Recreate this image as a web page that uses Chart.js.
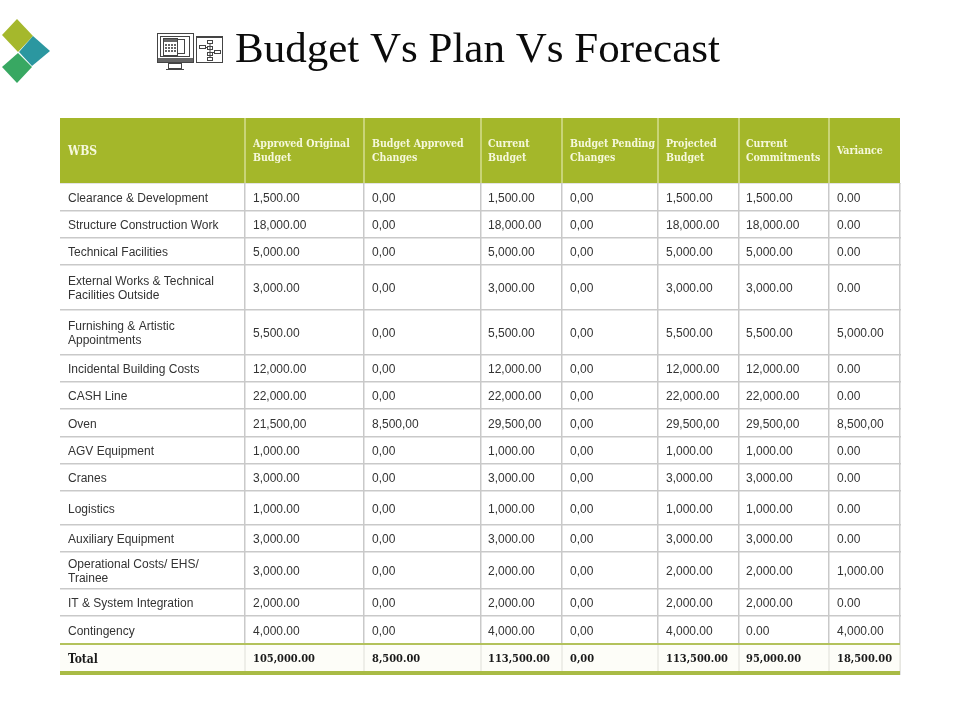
<!DOCTYPE html>
<html>
<head>
<meta charset="utf-8">
<title>Budget Vs Plan Vs Forecast</title>
<script src="https://cdn.jsdelivr.net/npm/chart.js@4"></script>
<style>
  html, body { margin: 0; padding: 0; background: #fff; }
  canvas { display: block; }
</style>
</head>
<body>
<canvas id="budgetTable" width="960" height="720"></canvas>
<script>
const titleText = 'Budget Vs Plan Vs Forecast';

const headers = [
  ['WBS'],
  ['Approved Original', 'Budget'],
  ['Budget Approved', 'Changes'],
  ['Current', 'Budget'],
  ['Budget Pending', 'Changes'],
  ['Projected', 'Budget'],
  ['Current', 'Commitments'],
  ['Variance']
];

const wbs = [
  'Clearance & Development', 'Structure Construction Work', 'Technical Facilities',
  'External Works & Technical\nFacilities Outside', 'Furnishing & Artistic\nAppointments',
  'Incidental Building Costs', 'CASH Line', 'Oven', 'AGV Equipment', 'Cranes', 'Logistics',
  'Auxiliary Equipment', 'Operational Costs/ EHS/\nTrainee', 'IT & System Integration',
  'Contingency', 'Total'
];
const approvedOriginal = ['1,500.00', '18,000.00', '5,000.00', '3,000.00', '5,500.00', '12,000.00', '22,000.00', '21,500,00', '1,000.00', '3,000.00', '1,000.00', '3,000.00', '3,000.00', '2,000.00', '4,000.00', '105,000.00'];
const budgetApproved = ['0,00', '0,00', '0,00', '0,00', '0,00', '0,00', '0,00', '8,500,00', '0,00', '0,00', '0,00', '0,00', '0,00', '0,00', '0,00', '8,500.00'];
const currentBudget = ['1,500.00', '18,000.00', '5,000.00', '3,000.00', '5,500.00', '12,000.00', '22,000.00', '29,500,00', '1,000.00', '3,000.00', '1,000.00', '3,000.00', '2,000.00', '2,000.00', '4,000.00', '113,500.00'];
const budgetPending = ['0,00', '0,00', '0,00', '0,00', '0,00', '0,00', '0,00', '0,00', '0,00', '0,00', '0,00', '0,00', '0,00', '0,00', '0,00', '0,00'];
const projectedBudget = ['1,500.00', '18,000.00', '5,000.00', '3,000.00', '5,500.00', '12,000.00', '22,000.00', '29,500,00', '1,000.00', '3,000.00', '1,000.00', '3,000.00', '2,000.00', '2,000.00', '4,000.00', '113,500.00'];
const currentCommitments = ['1,500.00', '18,000.00', '5,000.00', '3,000.00', '5,500.00', '12,000.00', '22,000.00', '29,500,00', '1,000.00', '3,000.00', '1,000.00', '3,000.00', '2,000.00', '2,000.00', '0.00', '95,000.00'];
const variance = ['0.00', '0.00', '0.00', '0.00', '5,000.00', '0.00', '0.00', '8,500,00', '0.00', '0.00', '0.00', '0.00', '1,000.00', '0.00', '4,000.00', '18,500.00'];

const columns = [wbs, approvedOriginal, budgetApproved, currentBudget, budgetPending, projectedBudget, currentCommitments, variance];

// table layout, in the units of the two hidden axes
const colEdges = [60, 245, 364, 481, 562, 658, 739, 829, 900];
const colPads = [8, 8, 8, 7, 8, 8, 7, 8];
const rowEdges = [183, 211, 238, 265, 310, 355, 382, 409, 437, 464, 491, 525, 552, 589, 616, 644, 672];
const headerTop = 118;
const tableBottom = 675;

const olive = '#a4b72a';
const gridGrey = '#c9c9c9';

const datasets = columns.map((col, c) => ({
  label: headers[c].join(' '),
  texts: col,
  data: col.map((_, r) => ({ x: colEdges[c] + colPads[c], y: (rowEdges[r] + rowEdges[r + 1]) / 2 })),
  pointRadius: 0
}));

function polygon(ctx, pts, fill) {
  ctx.beginPath();
  pts.forEach((p, i) => (i ? ctx.lineTo(p[0], p[1]) : ctx.moveTo(p[0], p[1])));
  ctx.closePath();
  ctx.fillStyle = fill;
  ctx.fill();
}

function drawLogo(ctx) {
  polygon(ctx, [[17, 19], [33, 36], [18, 52], [2, 35]], '#a5b82c');
  polygon(ctx, [[33, 36], [50, 51], [32, 66], [19, 52]], '#2b97a0');
  polygon(ctx, [[18, 53], [32, 67], [17, 83], [2, 67]], '#38a862');
}

function drawIcons(ctx) {
  ctx.save();
  ctx.strokeStyle = '#444';
  ctx.lineWidth = 1;
  // monitor
  ctx.strokeRect(157.5, 33.5, 36, 29);
  ctx.strokeRect(160.5, 36.5, 29, 20);
  ctx.strokeRect(163.5, 39.5, 21, 14);
  ctx.fillStyle = '#fff';
  ctx.fillRect(163.5, 38.5, 14, 17);
  ctx.strokeRect(163.5, 38.5, 14, 17);
  ctx.fillStyle = '#666';
  ctx.fillRect(164, 39, 13, 3);
  for (let i = 0; i < 4; i++) {
    for (let j = 0; j < 3; j++) ctx.fillRect(165 + i * 3, 44 + j * 3, 2, 2);
  }
  ctx.fillRect(158, 58, 35, 4);
  ctx.strokeRect(168.5, 63.5, 13, 5);
  ctx.beginPath(); ctx.moveTo(166, 69.5); ctx.lineTo(184, 69.5); ctx.stroke();
  // flow chart board
  ctx.strokeRect(196.5, 37.5, 26, 25);
  ctx.fillStyle = '#444';
  ctx.fillRect(196, 36, 27, 2);
  ctx.strokeRect(207.5, 40.5, 5, 3);
  ctx.strokeRect(207.5, 46.5, 5, 3);
  ctx.strokeRect(199.5, 45.5, 6, 3);
  ctx.strokeRect(214.5, 50.5, 6, 3);
  ctx.strokeRect(207.5, 52.5, 5, 3);
  ctx.strokeRect(207.5, 57.5, 5, 3);
  ctx.beginPath();
  ctx.moveTo(210, 43.5); ctx.lineTo(210, 57.5);
  ctx.moveTo(205.5, 47.5); ctx.lineTo(207.5, 47.5);
  ctx.moveTo(212.5, 52.5); ctx.lineTo(214.5, 52.5);
  ctx.stroke();
  ctx.restore();
}

const tablePlugin = {
  id: 'tablePlugin',
  beforeDatasetsDraw(chart) {
    const { ctx, scales: { x, y } } = chart;
    ctx.save();
    // header band
    const hTop = y.getPixelForValue(headerTop);
    const hBottom = y.getPixelForValue(rowEdges[0]);
    const left = x.getPixelForValue(colEdges[0]);
    const right = x.getPixelForValue(colEdges[8]);
    ctx.fillStyle = olive;
    ctx.fillRect(left, hTop, right - left, hBottom - hTop);
    ctx.fillStyle = '#ffffff';
    ctx.fillRect(right, hTop, 1, hBottom - hTop);
    ctx.fillStyle = '#eef2c4';
    colEdges.slice(1, 8).forEach(v => ctx.fillRect(x.getPixelForValue(v) - 0.5, hTop, 1, hBottom - hTop));
    // total row
    const totalTop = y.getPixelForValue(rowEdges[15]);
    const totalBottom = y.getPixelForValue(tableBottom - 4);
    ctx.fillStyle = '#fdfdf8';
    ctx.fillRect(left, totalTop, right - left, totalBottom - totalTop);
    ctx.fillStyle = '#e9e9e2';
    colEdges.slice(1).forEach(v => ctx.fillRect(x.getPixelForValue(v) - 0.75, totalTop, 1.5, totalBottom - totalTop));
    ctx.fillStyle = '#b3c25c';
    ctx.fillRect(left, totalTop - 1, right - left, 2);
    ctx.fillStyle = '#a9bb45';
    ctx.fillRect(left, totalBottom, right - left, 4);
    ctx.restore();
  },
  afterDatasetsDraw(chart) {
    const { ctx, scales: { x, y } } = chart;
    ctx.save();
    ctx.textBaseline = 'middle';
    ctx.textAlign = 'left';

    // title, logo and icons sit outside the table area
    drawLogo(ctx);
    drawIcons(ctx);
    ctx.fillStyle = '#0b0b0b';
    ctx.font = '43px "Liberation Serif"';
    ctx.fillText(titleText, 235, 51);

    // header labels
    headers.forEach((lines, c) => {
      ctx.font = c === 0 ? 'bold 12px "DejaVu Serif Condensed"' : 'bold 10.5px "DejaVu Serif Condensed"';
      ctx.fillStyle = '#f6f8dc';
      const px = x.getPixelForValue(colEdges[c] + colPads[c]);
      const py = y.getPixelForValue((headerTop + rowEdges[0]) / 2) + 1;
      lines.forEach((line, i) => ctx.fillText(line, px, py + (i - (lines.length - 1) / 2) * 14));
    });

    // body cells take their position from the dataset points
    chart.data.datasets.forEach((ds, c) => {
      chart.getDatasetMeta(c).data.forEach((pt, r) => {
        const isTotal = r === ds.texts.length - 1;
        if (isTotal) ctx.font = c === 0 ? 'bold 12px "DejaVu Serif Condensed"' : 'bold 11px "DejaVu Serif Condensed"';
        else ctx.font = '12px "Liberation Sans"';
        ctx.fillStyle = isTotal ? '#1a1a1a' : '#333';
        const lines = ds.texts[r].split('\n');
        lines.forEach((line, i) => ctx.fillText(line, pt.x, pt.y + 1.5 + (i - (lines.length - 1) / 2) * 14));
      });
    });
    ctx.restore();
  }
};

new Chart(document.getElementById('budgetTable').getContext('2d'), {
  type: 'scatter',
  data: { datasets },
  options: {
    responsive: false,
    animation: false,
    events: [],
    layout: { padding: { left: colEdges[0], right: 960 - colEdges[8] - 1, top: headerTop, bottom: 720 - tableBottom } },
    plugins: { legend: { display: false }, tooltip: { enabled: false }, title: { display: false } },
    scales: {
      x: {
        type: 'linear',
        min: colEdges[0],
        max: colEdges[8] + 1,
        afterBuildTicks: axis => { axis.ticks = colEdges.map(value => ({ value })); },
        ticks: { display: false },
        border: { display: false },
        grid: {
          drawTicks: false,
          lineWidth: 1.5,
          color: c => (c.tick && c.tick.value === colEdges[0] ? 'rgba(0,0,0,0)' : gridGrey)
        }
      },
      y: {
        type: 'linear',
        reverse: true,
        min: headerTop,
        max: tableBottom,
        afterBuildTicks: axis => { axis.ticks = rowEdges.slice(0, 15).map(value => ({ value })); },
        ticks: { display: false },
        border: { display: false },
        grid: { drawTicks: false, lineWidth: 1.5, color: gridGrey }
      }
    }
  },
  plugins: [tablePlugin]
});
</script>
</body>
</html>
